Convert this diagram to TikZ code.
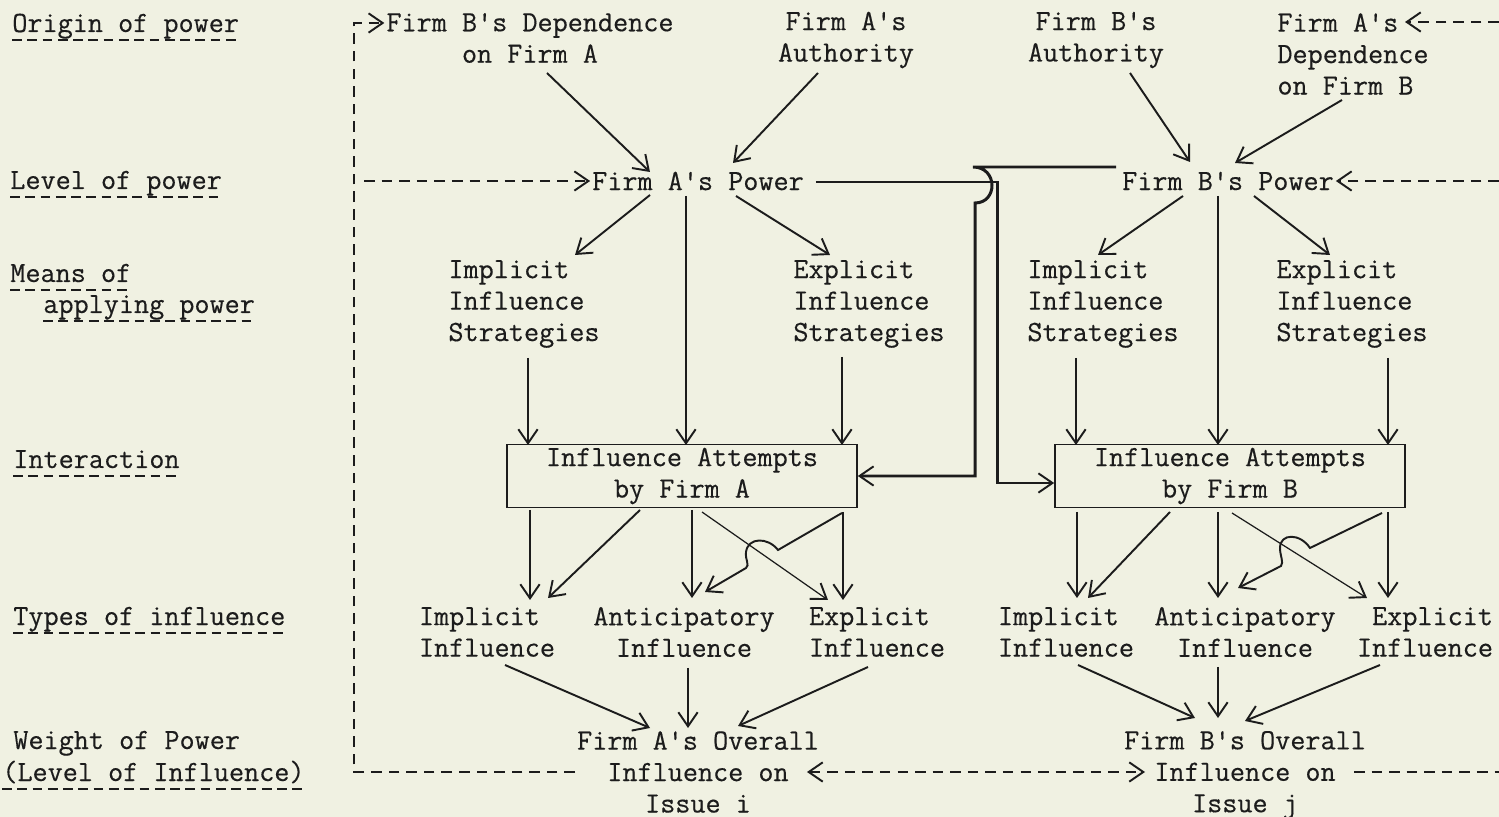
\documentclass[tikz,border=0pt]{standalone}
\usepackage{fontspec}
\setmonofont{Latin Modern Mono}[FakeBold=0.4]
\usepackage{tikz}
\usetikzlibrary{arrows.meta, calc, positioning}
\definecolor{paper}{RGB}{240,241,226}
\definecolor{ink}{RGB}{28,28,28}
\tikzset{
    txt/.style={font=\fontsize{16.7}{17.9}\selectfont\ttfamily, text=ink, inner sep=1pt, align=center},
    lft/.style={txt, align=left},
    rgt/.style={txt, align=right},
    rowlab/.style={txt, inner sep=0pt, anchor=base west},
    box/.style={txt, draw=ink, line width=1pt, minimum width=7cm, minimum height=1.26cm},
    tip/.style={-{Straight Barb[length=8pt,width=11pt,line width=1.1pt]}},
    arr/.style={ink, line width=1.1pt, tip},
    thinarr/.style={arr, line width=0.7pt},
    link/.style={ink, line width=1.7pt, tip},
    fb/.style={ink, line width=1.1pt, dash pattern=on 6pt off 4pt},
    uline/.style={ink, line width=0.9pt, dash pattern=on 5.5pt off 3.2pt},
}

\begin{document}
\begin{tikzpicture}[x=0.02cm, y=-0.02cm]
    % Paper and frame
    \fill[paper] (0,0) rectangle (1499,817);
    \useasboundingbox (0,0) rectangle (1499,817);

    % Row labels
    \node[rowlab] (lorig) at (12,32) {Origin of power};
    \node[rowlab] (llev) at (10,189) {Level of power};
    \node[rowlab] (lmean) at (10,282) {Means of};
    \node[rowlab] (lappl) at (43,313) {applying power};
    \node[rowlab] (linter) at (13,468) {Interaction};
    \node[rowlab] (ltype) at (13,625) {Types of influence};
    \node[rowlab] (lweight) at (13,749) {Weight of Power};
    \node[rowlab] (lwlev) at (2,781) {(Level of Influence)};
    \foreach \n in {lorig,llev,lmean,lappl,linter,ltype,lwlev}
        \draw[uline] ($(\n.base west)+(0,8)$) -- ($(\n.base east)+(0,8)$);

    % Origin of power
    \node[txt] (dba) at (530,38) {Firm B's Dependence\\on Firm A};
    \node[txt] (aauth) at (846,40) {Firm A's\\Authority};
    \node[txt] (bauth) at (1096,40) {Firm B's\\Authority};
    \node[lft] (dab) at (1353,54) {Firm A's\\Dependence\\on Firm B};

    % Level of power
    \node[txt] (pa) at (698,181) {Firm A's Power};
    \node[txt] (pb) at (1228,181) {Firm B's Power};

    % Means of applying power
    \node[lft] (isa) at (524,304) {Implicit\\Influence\\Strategies};
    \node[lft] (esa) at (869,304) {Explicit\\Influence\\Strategies};
    \node[lft] (isb) at (1103,304) {Implicit\\Influence\\Strategies};
    \node[lft] (esb) at (1352,304) {Explicit\\Influence\\Strategies};

    % Interaction
    \node[box] (iaa) at (682,476) {Influence Attempts\\by Firm A};
    \node[box] (iab) at (1230,476) {Influence Attempts\\by Firm B};

    % Types of influence
    \node[lft] (ima) at (487,632) {Implicit\\Influence};
    \node[txt] (ana) at (684,632) {Anticipatory\\Influence};
    \node[lft] (exa) at (877,632) {Explicit\\Influence};
    \node[lft] (imb) at (1066,632) {Implicit\\Influence};
    \node[txt] (anb) at (1245,632) {Anticipatory\\Influence};
    \node[rgt] (exb) at (1425,632) {Explicit\\Influence};

    % Weight of power
    \node[txt] (ova) at (698,772) {Firm A's Overall\\Influence on\\Issue i};
    \node[txt] (ovb) at (1245,775) {Firm B's Overall\\Influence on\\Issue j};

    % Loose ends at the right border
    \coordinate (rtop) at (1499,22);
    \coordinate (rmid) at (1499,181);
    \coordinate (rbot) at (1499,772);

    % Origin -> level
    \draw[arr] ($(dba)+(17,35)$) -- ($(pa)+(-48,-9)$);
    \draw[arr] ($(aauth)+(-28,33)$) -- ($(pa)+(35,-18)$);
    \draw[arr] ($(bauth)+(34,33)$) -- ($(pb)+(-38,-19)$);
    \draw[arr] ($(dab)+(-11,46)$) -- ($(pb)+(7,-18)$);

    % Level -> means -> interaction
    \draw[arr] ($(pa)+(-48,14)$) -- ($(isa)+(51,-49)$);
    \draw[arr] ($(pa)+(-12,15)$) -- ($(iaa)+(4,-31)$);
    \draw[arr] ($(pa)+(38,15)$) -- ($(esa)+(-39,-49)$);
    \draw[arr] ($(isa)+(4,54)$) -- ($(iaa)+(-154,-31)$);
    \draw[arr] ($(esa)+(-27,53)$) -- ($(iaa)+(160,-31)$);
    \draw[arr] ($(pb)+(-45,15)$) -- ($(isb)+(-5,-49)$);
    \draw[arr] ($(pb)+(-10,15)$) -- ($(iab)+(-12,-31)$);
    \draw[arr] ($(pb)+(26,15)$) -- ($(esb)+(-22,-49)$);
    \draw[arr] ($(isb)+(-27,54)$) -- ($(iab)+(-154,-31)$);
    \draw[arr] ($(esb)+(36,54)$) -- ($(iab)+(158,-31)$);

    % Power of one firm reaches the other firm's attempts
    \draw[link] ($(pa.east)+(10,1)$) -| ($(iab.west)+(-57,7)$) -- ($(iab.west)+(0,7)$);
    \draw[link] ($(pb.west)+(-4,-14)$) -- (973,167)
        .. controls (998,167) and (998,203) .. (975,203) |- (iaa.east);

    % Interaction -> types (firm A)
    \draw[arr] ($(iaa)+(-152,34)$) -- ($(ima)+(43,-32)$);
    \draw[arr] ($(iaa)+(-42,34)$) -- ($(ima)+(61,-34)$);
    \draw[arr] ($(iaa)+(10,34)$) -- ($(ana)+(8,-34)$);
    \draw[thinarr] ($(iaa)+(20,36)$) -- ($(exa)+(-49,-32)$);
    \draw[arr] ($(iaa)+(161,36)$) -- ($(exa)+(-34,-32)$);
    \draw[arr] ($(iaa)+(160,37)$) -- (778,550)
        .. controls (768,537) and (748,537) .. (746,552)
        .. controls (745,560) and (750,565) .. (746,568) -- ($(ana)+(21,-40)$);

    % Interaction -> types (firm B)
    \draw[arr] ($(iab)+(-153,36)$) -- ($(imb)+(11,-34)$);
    \draw[arr] ($(iab)+(-60,36)$) -- ($(imb)+(22,-34)$);
    \draw[arr] ($(iab)+(-12,36)$) -- ($(anb)+(-27,-34)$);
    \draw[thinarr] ($(iab)+(2,37)$) -- ($(exb)+(-58,-34)$);
    \draw[arr] ($(iab)+(158,36)$) -- ($(exb)+(-37,-34)$);
    \draw[arr] ($(iab)+(152,37)$) -- (1310,548)
        .. controls (1300,533) and (1280,533) .. (1280,548)
        .. controls (1280,556) and (1284,562) .. (1281,566) -- ($(anb)+(-7,-44)$);

    % Types -> overall influence
    \draw[arr] ($(ima)+(18,33)$) -- ($(ova)+(-48,-44)$);
    \draw[arr] ($(ana)+(4,36)$) -- ($(ova)+(-10,-44)$);
    \draw[arr] ($(exa)+(-9,35)$) -- ($(ova)+(40,-46)$);
    \draw[arr] ($(imb)+(12,33)$) -- ($(ovb)+(-50,-57)$);
    \draw[arr] ($(anb)+(-27,35)$) -- ($(ovb)+(-27,-57)$);
    \draw[arr] ($(exb)+(-45,33)$) -- ($(ovb)+(0,-54)$);

    % Feedback (dashed)
    \draw[fb, tip] (ova.west) -| ($(dba.west)+(-30,-15)$) -- ($(dba.west)+(0,-15)$);
    \draw[fb, tip] ($(pa.west)+(-226,0)$) -- (pa.west);
    \draw[fb, tip] (rtop) -- ($(dab)+(52,-32)$);
    \draw[fb, tip] (rmid) -- (pb.east);
    \draw[fb] ($(ovb.east)+(-14,-3)$) -- (rbot);
    \draw[fb, {Straight Barb[length=8pt,width=11pt,line width=1.1pt]}-{Straight Barb[length=8pt,width=11pt,line width=1.1pt]}]
        ($(ova.east)+(-14,0)$) -- ($(ovb.west)+(23,-3)$);
\end{tikzpicture}
\end{document}
